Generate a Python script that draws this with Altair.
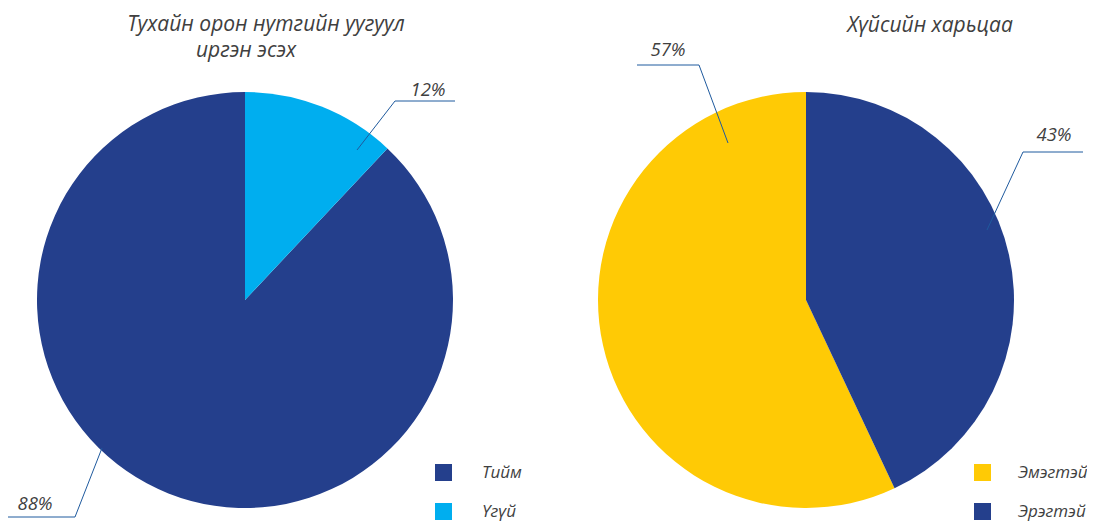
import altair as alt
import pandas as pd

# ---- data ----
left_categories = ["Тийм", "Үгүй"]
left_values = [88, 12]
right_categories = ["Эмэгтэй", "Эрэгтэй"]
right_values = [57, 43]

left_title = ["Тухайн орон нутгийн уугуул", "иргэн эсэх"]
right_title = ["Хүйсийн харьцаа"]

# ---- styles / layout ----
NAVY = "#243F8C"
CYAN = "#00AEEF"
YELLOW = "#FFCA05"
TEXT = "#404040"
LEADER = "#1F5A9E"
FONT = "Open Sans"

W, H = 1079, 514
OFF = 8
R = 208
left_center = (245 - OFF, 300 - OFF)
right_center = (806 - OFF, 300 - OFF)

# drawing order from 12 o'clock, clockwise
left_order = {"Үгүй": 0, "Тийм": 1}
right_order = {"Эрэгтэй": 0, "Эмэгтэй": 1}

# leader line paths (page pixels) and label anchor positions
leader_paths = {
    "Үгүй": [(357, 150), (395, 101), (455, 101)],
    "Тийм": [(102, 448), (75, 517), (8, 517)],
    "Эмэгтэй": [(728, 143), (699, 65), (637, 65)],
    "Эрэгтэй": [(987, 230), (1023, 152), (1083, 152)],
}
label_pos = {
    "Үгүй": (428, 96),
    "Тийм": (35, 510),
    "Эмэгтэй": (668, 56),
    "Эрэгтэй": (1054, 141),
}
title_pos = [
    (left_title[0], 266, 31),
    (left_title[1], 246, 57),
    (right_title[0], 930, 32),
]

left_df = pd.DataFrame({
    "category": left_categories,
    "value": left_values,
    "ord": [left_order[c] for c in left_categories],
})
right_df = pd.DataFrame({
    "category": right_categories,
    "value": right_values,
    "ord": [right_order[c] for c in right_categories],
})


def pie(df, center, colors, legend_xy, label_offset):
    return alt.Chart(df).mark_arc(outerRadius=R).encode(
        theta=alt.Theta("value:Q", stack=True),
        order=alt.Order("ord:Q"),
        color=alt.Color(
            "category:N",
            scale=alt.Scale(domain=list(df["category"]), range=colors),
            legend=alt.Legend(
                title=None,
                orient="none",
                legendX=legend_xy[0] - OFF,
                legendY=legend_xy[1] - OFF,
                direction="vertical",
                symbolType="square",
                symbolSize=289,
                symbolStrokeWidth=0,
                labelFont=FONT,
                labelFontStyle="italic",
                labelFontSize=17,
                labelColor=TEXT,
                labelOffset=label_offset,
                rowPadding=21,
                padding=0,
            ),
        ),
        x=alt.value(center[0]),
        y=alt.value(center[1]),
    )


left_pie = pie(left_df, left_center, [NAVY, CYAN], (435, 464), 30)
right_pie = pie(right_df, right_center, [YELLOW, NAVY], (974, 464), 27)

all_vals = dict(zip(left_categories, left_values))
all_vals.update(dict(zip(right_categories, right_values)))

line_rows = []
for cat, pts in leader_paths.items():
    for i, (px, py) in enumerate(pts):
        line_rows.append({"label": cat, "idx": i, "x": px - OFF, "y": py - OFF})
lines_df = pd.DataFrame(line_rows)

label_rows = [
    {"label": cat, "text": f"{all_vals[cat]}%", "x": p[0] - OFF, "y": p[1] - OFF}
    for cat, p in label_pos.items()
]
labels_df = pd.DataFrame(label_rows)

titles_df = pd.DataFrame([{"text": t, "x": x - OFF, "y": y - OFF} for t, x, y in title_pos])

leaders = alt.Chart(lines_df).mark_line(color=LEADER, strokeWidth=1).encode(
    x=alt.X("x:Q", scale=None, axis=None),
    y=alt.Y("y:Q", scale=None, axis=None),
    detail="label:N",
    order="idx:Q",
)

labels = alt.Chart(labels_df).mark_text(
    font=FONT, fontStyle="italic", fontSize=18.5, color=TEXT,
    align="center", baseline="alphabetic",
).encode(
    x=alt.X("x:Q", scale=None, axis=None),
    y=alt.Y("y:Q", scale=None, axis=None),
    text="text:N",
)

titles = alt.Chart(titles_df).mark_text(
    font=FONT, fontStyle="italic", fontSize=21, color=TEXT,
    align="center", baseline="alphabetic",
).encode(
    x=alt.X("x:Q", scale=None, axis=None),
    y=alt.Y("y:Q", scale=None, axis=None),
    text="text:N",
)

chart = alt.layer(left_pie, right_pie, leaders, labels, titles).resolve_scale(
    color="independent"
).properties(
    width=W, height=H, padding=0, autosize="none",
).configure_view(stroke=None)

chart.save("out.html", embed_options={"renderer": "svg", "actions": False})
